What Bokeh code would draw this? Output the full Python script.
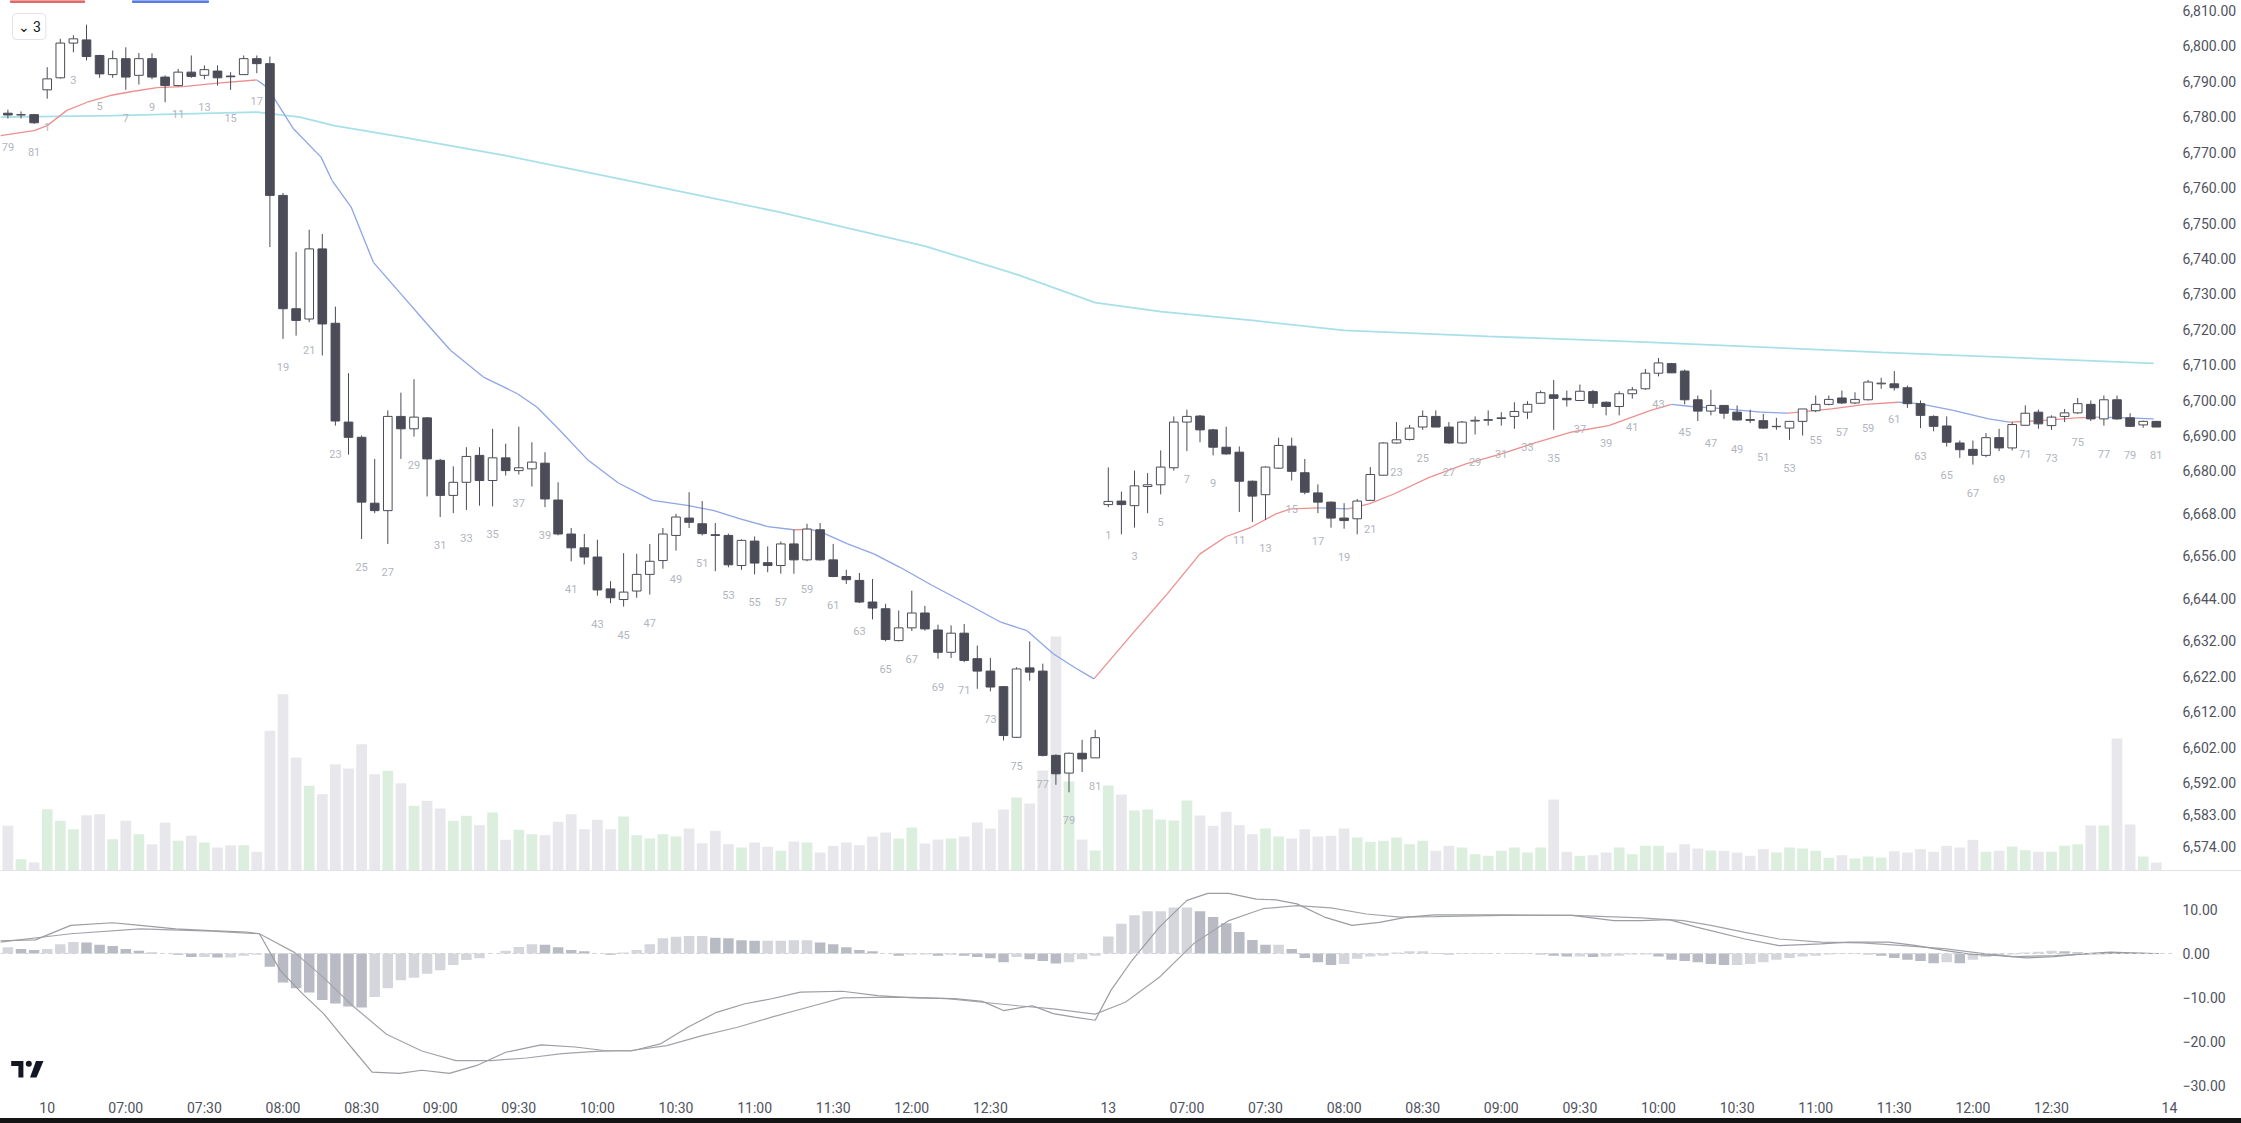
from bokeh.plotting import figure
from bokeh.models import Range1d, FixedTicker, NumeralTickFormatter, Span, Label, ColumnDataSource, Div
from bokeh.layouts import column
from bokeh.embed import file_html
from bokeh.resources import INLINE
from bokeh.core.properties import value

# ---------------------------------------------------------------- data
# bar numbering: last three bars of the previous session, then two sessions of 81 five-minute bars
prev_day_bars = [79, 80, 81]
session_bars = 81

opens = [
    6781.0, 6780.5, 6780.6,
    6787.6, 6791.0, 6800.8, 6801.7, 6797.3, 6791.9, 6796.4, 6791.7, 6796.4, 6791.2,
    6788.8, 6792.6, 6791.7, 6792.9, 6791.5, 6791.9, 6796.4, 6795.0, 6757.8, 6725.8,
    6722.9, 6742.7, 6721.7, 6693.8, 6689.5, 6670.9, 6668.8, 6695.4, 6691.9, 6695.0,
    6683.0, 6673.1, 6676.8, 6684.4, 6677.3, 6683.7, 6680.1, 6680.6, 6682.2, 6671.8,
    6662.2, 6658.3, 6655.7, 6646.7, 6643.7, 6646.1, 6650.8, 6654.7, 6661.8, 6666.7,
    6665.1, 6662.0, 6661.8, 6653.3, 6660.2, 6654.1, 6653.3, 6659.4, 6654.9, 6663.4,
    6654.9, 6650.2, 6649.1, 6643.0, 6641.1, 6632.1, 6635.7, 6639.9, 6635.1, 6628.8,
    6634.2, 6627.0, 6623.5, 6619.1, 6604.8, 6624.4, 6623.5, 6599.7, 6594.7, 6600.3,
    6599.0,
    6670.5, 6671.5, 6670.2, 6675.6, 6676.1, 6680.9, 6693.8, 6695.5, 6691.6,
    6686.7, 6685.3, 6677.1, 6673.3, 6680.8, 6687.0, 6679.5, 6673.8, 6671.2, 6666.7,
    6666.5, 6671.7, 6678.8, 6687.9, 6688.9, 6692.4, 6695.4, 6692.4, 6687.9, 6694.1,
    6694.3, 6694.8, 6695.4, 6696.6, 6699.1, 6701.5, 6700.5, 6699.9, 6702.4, 6699.4,
    6698.2, 6701.8, 6703.2, 6707.6, 6710.3, 6708.2, 6700.1, 6696.9, 6698.5, 6696.6,
    6694.5, 6694.2, 6692.5, 6692.1, 6694.0, 6697.0, 6698.8, 6700.6, 6699.2, 6700.1,
    6704.6, 6704.6, 6703.5, 6699.0, 6695.4, 6692.7, 6687.9, 6686.1, 6684.4, 6689.4,
    6686.5, 6692.9, 6696.6, 6692.8, 6695.4, 6696.4, 6698.8, 6694.7, 6700.1, 6695.0,
    6693.0, 6694.0,
]
highs = [
    6782.0, 6781.5, 6780.8,
    6794.0, 6802.0, 6803.0, 6806.0, 6797.5, 6798.7, 6799.6, 6798.0, 6797.9, 6791.7,
    6793.5, 6797.3, 6794.5, 6794.5, 6792.6, 6797.3, 6797.3, 6797.0, 6758.5, 6741.8,
    6748.1, 6746.9, 6726.4, 6707.6, 6690.0, 6683.4, 6697.1, 6702.1, 6705.9, 6695.2,
    6683.4, 6681.3, 6686.7, 6686.7, 6691.9, 6687.7, 6692.5, 6688.1, 6685.3, 6676.8,
    6663.9, 6662.2, 6660.6, 6648.9, 6656.8, 6656.6, 6659.4, 6663.9, 6667.9, 6674.0,
    6671.5, 6665.3, 6662.3, 6660.7, 6661.5, 6658.7, 6660.1, 6663.4, 6665.1, 6665.3,
    6659.4, 6652.1, 6651.2, 6649.5, 6642.5, 6640.6, 6646.2, 6641.9, 6636.6, 6636.4,
    6636.8, 6630.7, 6627.2, 6619.3, 6624.6, 6631.9, 6625.6, 6600.0, 6600.5, 6604.1,
    6606.9,
    6681.0, 6674.2, 6680.1, 6679.4, 6685.8, 6695.4, 6697.3, 6695.8, 6691.9,
    6692.5, 6686.9, 6677.3, 6681.3, 6689.4, 6689.4, 6683.4, 6676.2, 6671.4, 6670.9,
    6672.1, 6681.1, 6688.1, 6693.8, 6693.0, 6697.1, 6697.1, 6693.8, 6694.1, 6695.4,
    6697.1, 6696.6, 6699.4, 6699.7, 6702.7, 6705.7, 6702.7, 6704.4, 6702.9, 6699.6,
    6702.5, 6703.7, 6708.8, 6711.9, 6710.5, 6708.6, 6701.3, 6702.9, 6698.5, 6698.5,
    6697.3, 6696.1, 6695.0, 6694.0, 6697.5, 6701.3, 6701.3, 6702.7, 6702.2, 6705.7,
    6706.3, 6708.2, 6704.1, 6699.9, 6695.7, 6695.4, 6688.6, 6688.6, 6690.7, 6691.9,
    6693.8, 6698.5, 6697.3, 6695.7, 6697.5, 6700.6, 6699.9, 6701.3, 6701.3, 6696.3,
    6694.2, 6694.0,
]
lows = [
    6779.5, 6779.5, 6778.0,
    6785.1, 6790.8, 6798.2, 6795.9, 6791.0, 6791.0, 6787.6, 6789.1, 6790.6, 6784.1,
    6788.6, 6791.0, 6790.6, 6788.8, 6787.6, 6791.9, 6792.3, 6743.2, 6717.3, 6718.2,
    6722.0, 6712.6, 6692.8, 6684.6, 6660.8, 6668.1, 6659.4, 6683.4, 6689.7, 6672.8,
    6667.0, 6668.1, 6669.0, 6670.2, 6670.0, 6678.7, 6679.0, 6675.6, 6669.8, 6661.8,
    6654.5, 6653.6, 6644.8, 6642.7, 6641.7, 6644.2, 6645.1, 6652.4, 6657.5, 6663.9,
    6661.8, 6651.7, 6652.8, 6652.1, 6650.8, 6651.4, 6651.0, 6651.0, 6654.5, 6654.7,
    6650.0, 6648.1, 6642.7, 6638.1, 6631.9, 6631.9, 6634.8, 6634.9, 6627.0, 6627.2,
    6626.0, 6618.5, 6617.8, 6603.9, 6604.6, 6620.8, 6599.4, 6591.4, 6589.3, 6595.0,
    6599.0,
    6669.8, 6662.1, 6664.0, 6668.1, 6673.4, 6680.1, 6685.6, 6688.1, 6684.4,
    6684.6, 6668.4, 6665.6, 6666.2, 6680.6, 6677.3, 6673.4, 6668.1, 6664.0, 6663.7,
    6662.1, 6671.5, 6678.8, 6687.7, 6688.6, 6691.6, 6692.4, 6687.7, 6687.7, 6690.3,
    6692.8, 6692.8, 6691.9, 6694.7, 6699.0, 6691.6, 6698.2, 6699.7, 6697.8, 6695.7,
    6695.7, 6700.4, 6702.9, 6706.7, 6707.7, 6698.8, 6694.1, 6695.7, 6694.7, 6694.2,
    6693.5, 6691.9, 6691.6, 6688.8, 6690.0, 6696.6, 6698.5, 6698.9, 6698.9, 6699.9,
    6703.2, 6702.7, 6697.8, 6692.1, 6691.2, 6686.9, 6683.7, 6681.8, 6683.9, 6685.6,
    6685.8, 6692.8, 6691.9, 6691.6, 6693.8, 6696.1, 6694.1, 6692.8, 6694.4, 6692.4,
    6692.2, 6692.4,
]
closes = [
    6780.5, 6780.6, 6778.3,
    6790.7, 6800.8, 6802.0, 6797.0, 6792.1, 6796.4, 6791.2, 6796.4, 6791.2, 6788.8,
    6792.6, 6791.4, 6793.3, 6791.0, 6791.3, 6796.4, 6795.0, 6757.8, 6725.8, 6722.5,
    6742.7, 6721.5, 6694.1, 6689.5, 6671.2, 6668.8, 6695.4, 6691.9, 6695.2, 6683.4,
    6673.1, 6676.8, 6684.1, 6677.3, 6683.7, 6680.1, 6680.9, 6682.5, 6672.1, 6662.2,
    6658.3, 6655.7, 6646.4, 6644.2, 6645.8, 6650.8, 6654.5, 6662.2, 6667.0, 6665.5,
    6662.3, 6661.8, 6653.5, 6660.4, 6654.0, 6653.3, 6659.4, 6654.9, 6663.6, 6654.9,
    6650.2, 6649.3, 6643.0, 6641.3, 6632.4, 6635.7, 6639.9, 6635.4, 6628.8, 6634.2,
    6626.5, 6623.5, 6619.0, 6605.3, 6624.1, 6623.2, 6599.7, 6594.5, 6600.3, 6598.7,
    6604.7,
    6671.4, 6670.5, 6675.8, 6676.1, 6681.1, 6693.8, 6695.4, 6691.6, 6686.7,
    6684.8, 6677.1, 6672.9, 6681.1, 6687.2, 6679.9, 6674.0, 6671.2, 6666.7, 6666.0,
    6671.5, 6679.0, 6687.9, 6688.8, 6692.1, 6695.4, 6692.4, 6687.9, 6693.8, 6694.3,
    6694.5, 6695.0, 6696.8, 6698.8, 6702.1, 6700.5, 6700.1, 6702.5, 6699.1, 6698.2,
    6701.8, 6702.9, 6707.6, 6710.5, 6707.7, 6700.1, 6696.9, 6698.5, 6696.3, 6694.4,
    6694.3, 6692.1, 6692.6, 6694.0, 6697.5, 6698.8, 6700.2, 6699.2, 6700.2, 6705.1,
    6704.8, 6703.5, 6699.0, 6695.7, 6692.6, 6688.1, 6686.0, 6684.4, 6689.4, 6686.5,
    6693.1, 6696.3, 6693.3, 6695.2, 6696.4, 6699.0, 6694.7, 6700.1, 6694.7, 6692.6,
    6694.0, 6692.4,
]
volumes = [
    4470, 1130, 800,
    6130, 4970, 4130, 5530, 5630, 3130, 4970, 3630, 2630, 4800,
    2970, 3470, 2800, 2300, 2530, 2530, 1870, 13970, 17630, 11300,
    8470, 7630, 10630, 10200, 12630, 9630, 9970, 8730, 6470, 6970,
    6200, 4970, 5470, 4530, 5800, 3070, 4070, 3630, 3530, 4870,
    5630, 4130, 5070, 4130, 5400, 3530, 3200, 3630, 3400, 4200,
    2730, 3970, 2630, 2300, 2800, 2370, 1970, 2900, 2800, 1800,
    2470, 2800, 2530, 3400, 3800, 3200, 4300, 2700, 3100, 3200,
    3400, 4800, 4200, 6100, 7300, 6700, 10000, 23400, 8900, 3100,
    2000,
    8500, 7600, 6000, 6100, 5100, 5000, 7000, 5500, 4470,
    5870, 4530, 3630, 4200, 3400, 3200, 4130, 3400, 3470, 4200,
    3300, 2870, 2970, 3300, 2630, 2970, 1970, 2470, 2300, 1630,
    1470, 1970, 2300, 1800, 2300, 7100, 1870, 1470, 1530, 1800,
    2300, 1630, 2470, 2470, 1800, 2630, 2200, 2000, 1970, 1800,
    1470, 2130, 1800, 2300, 2200, 1970, 1270, 1530, 1200, 1400,
    1300, 1930, 1800, 2130, 1870, 2470, 2300, 3070, 1870, 1970,
    2400, 2030, 1870, 1870, 2470, 2630, 4500, 4500, 13200, 4600,
    1400, 800,
]
macd_hist = [
    1.4, 1.0, 0.8,
    1.0, 2.1, 2.6, 2.5, 2.0, 1.7, 1.0, 0.6, 0.2, 0.0,
    -0.3, -0.8, -0.8, -0.9, -0.9, -0.5, -0.3, -3.0, -6.6, -7.9,
    -8.9, -10.6, -11.4, -12.1, -12.3, -9.9, -7.9, -6.1, -5.5, -4.6,
    -3.8, -2.6, -1.5, -1.1, 0.0, 0.6, 1.5, 2.1, 2.0, 1.4,
    0.8, 0.5, 0.0, -0.3, 0.2, 0.8, 2.1, 3.5, 3.8, 4.0,
    4.0, 3.6, 3.5, 3.0, 2.9, 2.9, 2.9, 3.0, 3.0, 2.5,
    2.1, 1.4, 0.8, 0.5, 0.0, -0.5, -0.2, -0.2, -0.5, -0.3,
    -0.5, -0.8, -1.1, -2.0, -0.8, -1.3, -1.7, -2.3, -2.0, -1.3,
    -0.5,
    3.9, 6.8, 8.7, 9.6, 9.6, 10.5, 10.5, 9.6, 8.3,
    6.9, 4.9, 3.1, 2.0, 2.0, 1.0, -1.0, -2.0, -2.6, -2.4,
    -1.2, -0.7, -0.5, 0.2, 0.5, 0.5, 0.1, -0.2, -0.1, 0.1,
    0.1, 0.0, -0.1, -0.1, -0.2, -0.5, -0.7, -0.7, -0.8, -0.7,
    -0.5, -0.2, -0.2, -0.7, -1.4, -1.7, -2.0, -2.4, -2.6, -2.6,
    -2.4, -2.0, -1.4, -1.0, -0.7, -0.5, -0.2, -0.1, -0.1, -0.2,
    -0.5, -1.0, -1.4, -1.7, -2.2, -2.0, -2.2, -1.4, -0.8, -0.5,
    -0.2, 0.2, 0.4, 0.6, 0.5, 0.3, 0.1, 0.0, 0.1, 0.1,
    0.0, 0.0,
]
# moving average read at points along the bar axis (bar position, price)
ema_x = [-3.56, -1.0, 0.0, 1.5, 3.05, 4.8, 6.6, 8.4, 10.4, 13.0,
         16.0, 16.8, 18.8, 20.9, 21.75, 23.2, 24.9, 27.0, 29.0, 30.8,
         33.3, 35.9, 37.4, 39.0, 41.3, 43.6, 46.2, 48.85, 50.9, 52.9,
         55.0, 57.0, 58.3, 59.3, 61.1, 63.1, 65.1, 67.5, 70.2, 72.8,
         74.8, 76.8, 78.4, 79.9, 82.95, 85.5, 88.0, 90.0, 91.9, 93.8,
         94.9, 97.1, 99.3, 100.9, 102.8, 105.5, 108.3, 111.0, 113.7, 116.4,
         119.2, 122.4, 124.0, 125.5, 128.1, 130.8, 132.9, 136.2, 138.8, 141.3,
         142.9, 145.5, 148.2, 149.8, 152.2, 154.9, 156.5, 158.9, 160.8]
ema_v = [6774.7, 6776.1, 6777.5, 6781.8, 6784.1, 6786.0, 6787.2, 6788.2, 6788.5, 6789.5,
         6790.4, 6788.3, 6776.6, 6768.6, 6762.0, 6754.5, 6738.9, 6730.0, 6721.5, 6714.0,
         6706.5, 6701.8, 6698.0, 6692.0, 6683.0, 6676.6, 6671.7, 6670.3, 6668.8, 6666.5,
         6664.3, 6663.4, 6663.5, 6662.4, 6659.4, 6656.6, 6652.8, 6647.8, 6642.5, 6637.3,
         6634.9, 6628.4, 6624.6, 6621.3, 6634.5, 6645.3, 6656.6, 6661.5, 6664.1, 6667.9,
         6669.3, 6669.6, 6669.3, 6670.7, 6673.5, 6678.2, 6682.0, 6684.8, 6688.1, 6691.0,
         6692.8, 6697.1, 6698.8, 6698.2, 6697.5, 6696.6, 6696.3, 6697.5, 6698.8, 6699.4,
         6699.0, 6697.1, 6694.7, 6693.8, 6694.2, 6695.0, 6695.2, 6695.0, 6694.7]
long_ma_x = [-3.56, 5.0, 16.0, 19.3, 21.9, 26.9, 35.0, 45.0, 56.0, 67.0,
             74.0, 80.0, 85.0, 92.0, 99.0, 110.0, 122.0, 140.0, 160.8]
long_ma_v = [6779.9, 6780.3, 6781.3, 6779.9, 6777.5, 6774.4, 6769.0, 6761.5, 6753.0, 6743.5,
             6735.5, 6727.5, 6725.0, 6722.5, 6719.7, 6718.0, 6716.4, 6713.5, 6710.4]
macd_x = [-3.6, -0.9, 1.8, 5.0, 7.1, 9.8, 12.5, 15.2, 16.2, 17.8,
          19.5, 21.1, 23.2, 24.8, 26.9, 28.6, 30.7, 32.8, 35.0, 37.7,
          40.3, 42.5, 44.6, 46.8, 48.9, 51.1, 53.2, 55.3, 57.5, 60.7,
          63.4, 66.1, 69.3, 71.4, 73.0, 75.2, 76.8, 78.4, 80.0, 81.2,
          82.8, 84.9, 87.0, 88.6, 90.2, 92.3, 93.8, 95.4, 97.5, 99.6,
          101.7, 103.8, 105.9, 111.2, 116.4, 119.6, 121.7, 123.8, 125.9, 129.6,
          132.2, 135.4, 137.5, 140.6, 142.7, 144.8, 146.9, 149.0, 151.1, 153.2,
          155.4, 157.5, 160.6, 161.2]
macd_v = [2.9, 3.1, 6.4, 7.0, 6.4, 5.6, 5.2, 4.9, 4.5, -3.9,
          -9.2, -13.7, -21.3, -27.0, -27.3, -26.6, -27.3, -25.5, -22.5, -20.8,
          -21.3, -22.1, -22.2, -20.6, -16.8, -13.4, -11.5, -10.3, -8.8, -8.6,
          -9.6, -10.1, -10.3, -10.9, -13.0, -11.9, -13.7, -14.5, -15.2, -8.4,
          -1.6, 6.0, 12.1, 13.7, 13.7, 12.4, 12.2, 11.3, 8.3, 6.4,
          7.1, 8.3, 8.8, 8.8, 8.7, 7.5, 7.5, 7.7, 6.0, 3.3,
          1.8, 2.2, 2.6, 2.6, 1.8, 0.7, -0.2, -0.5, -1.0, -0.7,
          -0.1, 0.3, 0.0, 0.0]
signal_x = [-3.6, 1.8, 7.1, 12.5, 16.2, 18.9, 21.1, 23.2, 25.9, 28.6,
            31.2, 33.9, 36.6, 39.3, 41.9, 44.6, 47.3, 50.0, 52.7, 55.3,
            58.0, 60.7, 63.4, 66.1, 68.7, 71.4, 74.1, 76.8, 78.9, 80.0,
            82.3, 84.9, 87.5, 90.2, 92.8, 95.4, 98.0, 100.7, 103.3, 105.9,
            111.2, 116.4, 121.7, 124.9, 127.0, 129.6, 132.2, 135.4, 138.5, 141.7,
            144.8, 148.0, 150.1, 153.2, 155.9, 158.5, 161.2]
signal_v = [2.6, 4.5, 5.6, 5.1, 4.5, 0.2, -5.5, -11.6, -18.4, -22.2,
            -24.4, -24.4, -23.8, -22.8, -22.3, -22.1, -21.0, -18.7, -16.8, -14.5,
            -12.3, -10.1, -10.0, -10.0, -10.3, -11.1, -11.9, -12.6, -13.4, -13.8,
            -11.1, -5.4, 2.2, 7.5, 10.2, 10.9, 10.4, 9.0, 8.3, 8.4,
            8.7, 8.7, 8.1, 7.5, 6.4, 4.8, 3.3, 2.6, 2.4, 1.8,
            1.1, -0.1, -0.7, -0.5, -0.1, 0.1, 0.0]

price_ticks = [6810, 6800, 6790, 6780, 6770, 6760, 6750, 6740, 6730, 6720, 6710, 6700,
               6690, 6680, 6668, 6656, 6644, 6632, 6622, 6612, 6602, 6592, 6583, 6574]
macd_ticks = [10, 0, -10, -20, -30]
time_ticks = [0, 6, 12, 18, 24, 30, 36, 42, 48, 54, 60, 66, 72,
              81, 87, 93, 99, 105, 111, 117, 123, 129, 135, 141, 147, 153, 162]
time_labels = ["10", "07:00", "07:30", "08:00", "08:30", "09:00", "09:30", "10:00", "10:30",
               "11:00", "11:30", "12:00", "12:30",
               "13", "07:00", "07:30", "08:00", "08:30", "09:00", "09:30", "10:00", "10:30",
               "11:00", "11:30", "12:00", "12:30", "14"]
selector_text = "⌄ 3"

# ---------------------------------------------------------------- layout / style
FONT = "Roboto"
W = 2241
AXIS_W = 69
FRAME_W = W - AXIS_W
BAR_PX = 13.1
FIRST_BAR_PX = 46.7
PRICE_H = 870
PX_PER_PT = 3.542
PRICE_TOP = 6810 + 10 / PX_PER_PT
MACD_H = 247
MACD_AXIS_H = 22
MACD_FRAME_H = MACD_H - MACD_AXIS_H
PX_PER_UNIT = 4.39
MACD_TOP = 82 / PX_PER_UNIT
VOL_PER_PX = 100

DARK = "#4b4c57"
RED = "#ec8f8f"
BLUE = "#8ea5e6"
CYAN = "#a8e0e9"
LABEL_C = "#50535e"

n_prev = len(prev_day_bars)
idx = list(range(-n_prev, len(opens) - n_prev))
bar_no = prev_day_bars + list(range(1, session_bars + 1)) * 2


def px_to_x(px):
    return (px - FIRST_BAR_PX) / BAR_PX


def py_to_price(py):
    return PRICE_TOP - py / PX_PER_PT


def py_to_macd(py):
    return MACD_TOP - (py - PRICE_H - 1) / PX_PER_UNIT


x_range = Range1d(px_to_x(0), px_to_x(FRAME_W))

# ---------------------------------------------------------------- price pane
p = figure(width=W, height=PRICE_H, x_range=x_range,
           y_range=Range1d(PRICE_TOP - PRICE_H / PX_PER_PT, PRICE_TOP),
           x_axis_location=None, y_axis_location="right",
           toolbar_location=None, output_backend="svg",
           min_border_left=0, min_border_right=AXIS_W, min_border_top=0, min_border_bottom=0,
           outline_line_color=None, background_fill_color="white", border_fill_color="white")
p.grid.visible = False
p.extra_y_ranges = {"vol": Range1d(0, PRICE_H * VOL_PER_PX)}

up = [c >= o for o, c in zip(opens, closes)]
src = ColumnDataSource(dict(
    x=idx, o=opens, h=highs, l=lows, c=closes, v=volumes,
    top=[max(o, c) for o, c in zip(opens, closes)],
    bot=[min(o, c) for o, c in zip(opens, closes)],
    fill=["#ffffff" if u else DARK for u in up],
    vcol=["#dcefde" if u else "#e8e8ec" for u in up],
))

p.vbar(x="x", top="v", bottom=0, width=0.82, source=src, fill_color="vcol",
       line_color=None, y_range_name="vol")

p.line(long_ma_x, long_ma_v, line_color=CYAN, line_width=1.8)
ema_cols = [RED if b >= a else BLUE for a, b in zip(ema_v[:-1], ema_v[1:])]
p.segment(x0=ema_x[:-1], y0=ema_v[:-1], x1=ema_x[1:], y1=ema_v[1:],
          line_color=ema_cols, line_width=1.3)

p.segment(x0="x", y0="l", x1="x", y1="h", source=src, line_color=DARK, line_width=1)
p.vbar(x="x", top="top", bottom="bot", width=0.66, source=src,
       fill_color="fill", line_color=DARK, line_width=1)

odd = [i for i, n in enumerate(bar_no) if n % 2 == 1]
p.text(x=[idx[i] for i in odd], y=[lows[i] for i in odd], text=[str(bar_no[i]) for i in odd],
       y_offset=28, text_align="center", text_baseline="middle",
       text_font=value(FONT), text_font_size="11px", text_color="#b2b5be")

# cut-off legend tags at the top edge
p.quad(left=[px_to_x(10), px_to_x(132)], right=[px_to_x(84), px_to_x(208)],
       top=[PRICE_TOP, PRICE_TOP], bottom=[py_to_price(2), py_to_price(2)],
       color=["#e06a6a", "#5b7be0"])

p.add_layout(Label(x=px_to_x(0), y=PRICE_TOP, x_offset=12, y_offset=-13, text=selector_text,
                   text_baseline="top", text_align="left", text_font=FONT,
                   text_font_size="14px", text_color="#131722",
                   border_line_color="#e0e3eb", background_fill_color="white",
                   padding=5, border_radius=4))

ya = p.yaxis[0]
ya.ticker = FixedTicker(ticks=price_ticks)
ya.formatter = NumeralTickFormatter(format="0,0.00")

# ---------------------------------------------------------------- MACD pane
m = figure(width=W, height=MACD_H, x_range=x_range,
           y_range=Range1d(MACD_TOP - MACD_FRAME_H / PX_PER_UNIT, MACD_TOP),
           y_axis_location="right", toolbar_location=None, output_backend="svg",
           min_border_left=0, min_border_right=AXIS_W, min_border_top=0,
           min_border_bottom=MACD_AXIS_H,
           outline_line_color=None, background_fill_color="white", border_fill_color="white")
m.grid.visible = False

hcol = ["#d5d6dc"] + ["#d5d6dc" if b >= a else "#b8bac4" for a, b in zip(macd_hist[:-1], macd_hist[1:])]
m.vbar(x=idx, top=macd_hist, bottom=0, width=0.8, fill_color=hcol, line_color=None)
m.add_layout(Span(location=0, dimension="width", line_color="#cfd1d8", line_dash="4 4", line_width=1))
m.line(signal_x, signal_v, line_color="#a3a4aa", line_width=1.2)
m.line(macd_x, macd_v, line_color="#9c9da3", line_width=1.2)

# chart-brand mark in the lower-left corner
m.patch([px_to_x(v) for v in (10.7, 22.9, 22.9, 17.9, 17.9, 10.7)],
        [py_to_macd(v) for v in (1060.5, 1060.5, 1077, 1077, 1065.5, 1065.5)],
        fill_color="#131722", line_color=None)
m.scatter([px_to_x(28.3)], [py_to_macd(1063.2)], size=6, fill_color="#131722", line_color=None)
m.patch([px_to_x(v) for v in (35.5, 43.0, 36.0, 29.5)],
        [py_to_macd(v) for v in (1060.5, 1060.5, 1077, 1077)],
        fill_color="#131722", line_color=None)

xa = m.xaxis[0]
xa.ticker = FixedTicker(ticks=time_ticks)
xa.major_label_overrides = {t: lab for t, lab in zip(time_ticks, time_labels)}
xa.major_label_standoff = 3
my = m.yaxis[0]
my.ticker = FixedTicker(ticks=macd_ticks)
my.major_label_overrides = {t: f"{t:.2f}".replace("-", "\u2212") for t in macd_ticks}

for ax in (ya, xa, my):
    ax.axis_line_color = None
    ax.major_tick_line_color = None
    ax.minor_tick_line_color = None
    ax.major_tick_out = 0
    ax.major_label_text_font = FONT
    ax.major_label_text_font_size = "14px"
    ax.major_label_text_color = LABEL_C
for ax in (ya, my):
    ax.major_label_standoff = 10

sep = Div(text="", width=W, height=1, margin=(0, 0, 0, 0), styles={"background-color": "#e0e3eb"})
strip = Div(text="", width=W, height=5, margin=(0, 0, 0, 0), styles={"background-color": "#141414"})

layout = column(p, sep, m, strip, spacing=0)
open("out.html", "w").write(file_html(layout, INLINE))
